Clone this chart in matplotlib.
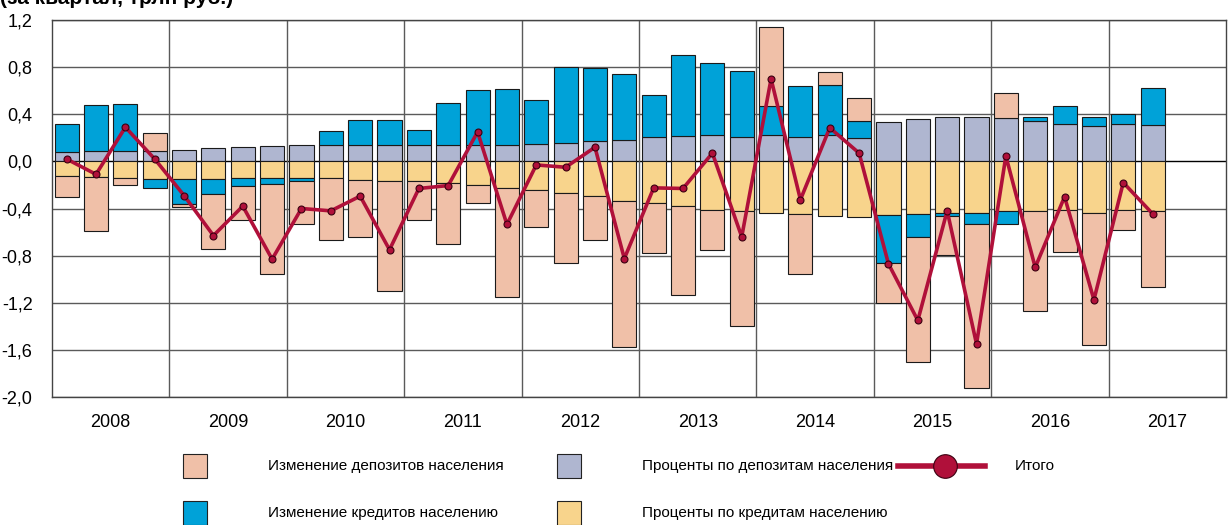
import matplotlib
matplotlib.use('Agg')
import matplotlib.pyplot as plt
from matplotlib.patches import Rectangle
from matplotlib.lines import Line2D
import numpy as np

plt.rcParams['font.family'] = ['Liberation Sans', 'DejaVu Sans']

years = ['2008', '2009', '2010', '2011', '2012', '2013', '2014', '2015', '2016', '2017']
quarters = [f'{y}Q{q}' for y in years for q in (1, 2, 3, 4)][:38]

# Проценты по депозитам населения
dep_int = [0.08, 0.085, 0.09, 0.085, 0.10, 0.11, 0.12, 0.13, 0.135, 0.14,
           0.14, 0.14, 0.135, 0.135, 0.135, 0.135, 0.15, 0.16, 0.17, 0.18,
           0.205, 0.215, 0.225, 0.21, 0.22, 0.21, 0.22, 0.20, 0.33, 0.36,
           0.375, 0.375, 0.37, 0.34, 0.315, 0.30, 0.32, 0.305]
# Проценты по кредитам населению
loan_int = [-0.12, -0.13, -0.14, -0.15, -0.15, -0.15, -0.145, -0.145, -0.145, -0.145,
            -0.16, -0.165, -0.165, -0.18, -0.20, -0.225, -0.24, -0.265, -0.295, -0.335,
            -0.35, -0.38, -0.41, -0.425, -0.435, -0.445, -0.465, -0.47, -0.455, -0.445,
            -0.44, -0.435, -0.42, -0.42, -0.41, -0.44, -0.41, -0.425]
# Изменение кредитов населению
loan_chg = [0.24, 0.39, 0.40, -0.08, -0.215, -0.13, -0.06, -0.045, -0.02, 0.115,
            0.21, 0.215, 0.135, 0.36, 0.47, 0.48, 0.375, 0.645, 0.62, 0.565,
            0.355, 0.685, 0.61, 0.555, 0.25, 0.43, 0.425, 0.14, -0.405, -0.20,
            -0.02, -0.10, -0.115, 0.035, 0.155, 0.08, 0.085, 0.315]
# Изменение депозитов населения
dep_chg = [-0.18, -0.46, -0.06, 0.16, -0.025, -0.46, -0.29, -0.77, -0.37, -0.525,
           -0.485, -0.935, -0.33, -0.525, -0.15, -0.93, -0.315, -0.595, -0.37, -1.24,
           -0.43, -0.755, -0.345, -0.975, 0.67, -0.515, 0.11, 0.20, -0.345, -1.06,
           -0.335, -1.39, 0.21, -0.85, -0.36, -1.115, -0.17, -0.64]
# Итого
total = [0.02, -0.11, 0.29, 0.02, -0.29, -0.63, -0.38, -0.83, -0.40, -0.42,
         -0.295, -0.75, -0.23, -0.205, 0.25, -0.535, -0.03, -0.05, 0.12, -0.825,
         -0.225, -0.23, 0.07, -0.64, 0.70, -0.325, 0.285, 0.07, -0.87, -1.35,
         -0.42, -1.55, 0.045, -0.90, -0.30, -1.175, -0.18, -0.445]

labels = ['Изменение депозитов населения', 'Проценты по депозитам населения', 'Итого',
          'Изменение кредитов населению', 'Проценты по кредитам населению']

c_dep_chg = '#F0C0A8'
c_dep_int = '#AFB6D0'
c_loan_chg = '#00A2D8'
c_loan_int = '#F8D48C'
c_total = '#B0103A'

W, H = 1229, 525
fig = plt.figure(figsize=(W / 100, H / 100), dpi=100)
ax = fig.add_axes([52 / W, 1 - 397 / H, (1226 - 52) / W, (397 - 20) / H])

x = np.arange(len(quarters))
pos = np.zeros(len(x))
neg = np.zeros(len(x))
for vals, col in [(dep_int, c_dep_int), (loan_int, c_loan_int),
                  (loan_chg, c_loan_chg), (dep_chg, c_dep_chg)]:
    v = np.array(vals)
    bottom = np.where(v >= 0, pos, neg)
    ax.bar(x, v, bottom=bottom, width=0.82, color=col, edgecolor='#1a1a1a',
           linewidth=0.8, zorder=3)
    pos = pos + np.where(v >= 0, v, 0)
    neg = neg + np.where(v < 0, v, 0)

ax.plot(x, total, color=c_total, lw=2.6, zorder=5, marker='o', markersize=5,
        markerfacecolor=c_total, markeredgecolor='#3a0010', markeredgewidth=0.8)

ax.set_xlim(-0.5, 39.5)
ax.set_ylim(-2.0, 1.2)
yt = np.arange(-2.0, 1.21, 0.4)
ax.set_yticks(yt)
ax.set_yticklabels([f'{v:.1f}'.replace('.', ',').replace('-0,0', '0,0') for v in yt], fontsize=13)
for v in yt:
    ax.axhline(v, color='#000000' if abs(v) < 1e-9 else '#5a5a5a', lw=1.0, zorder=1)
for k in range(1, 10):
    ax.axvline(4 * k - 0.5, color='#5a5a5a', lw=1.0, zorder=1)

ax.set_xticks([4 * k + 1.5 for k in range(10)])
ax.set_xticklabels(years, fontsize=13)
ax.tick_params(axis='both', length=0)
ax.tick_params(axis='x', pad=12)
ax.tick_params(axis='y', pad=14)
for s in ax.spines.values():
    s.set_color('#444444')
    s.set_linewidth(1.0)

# Заголовок (обрезан сверху, как в оригинале)
fig.text(0 / W, 1 + 2 / H, '(за квартал, трлн руб.)', fontsize=15, fontweight='bold',
         ha='left', va='center')

# Легенда
def fx(px):
    return px / W

def fy(py):
    return 1 - py / H

items = [
    (183, 466, c_dep_chg, labels[0], 268),
    (557, 466, c_dep_int, labels[1], 642),
    (183, 513, c_loan_chg, labels[3], 268),
    (557, 513, c_loan_int, labels[4], 642),
]
for px, py, col, lab, tx in items:
    fig.patches.append(Rectangle((fx(px), fy(py + 12)), 24 / W, 24 / H, facecolor=col,
                                 edgecolor='#222222', lw=0.8, transform=fig.transFigure))
    fig.text(fx(tx), fy(py), lab, fontsize=11, ha='left', va='center')

fig.lines.append(Line2D([fx(898), fx(985)], [fy(466), fy(466)], color=c_total, lw=4,
                        transform=fig.transFigure))
fig.lines.append(Line2D([fx(945)], [fy(466)], marker='o', markersize=17, color=c_total,
                        markeredgecolor='#3a0010', markeredgewidth=0.8, transform=fig.transFigure))
fig.text(fx(1015), fy(466), labels[2], fontsize=11, ha='left', va='center')

fig.savefig('out.png', dpi=100)
